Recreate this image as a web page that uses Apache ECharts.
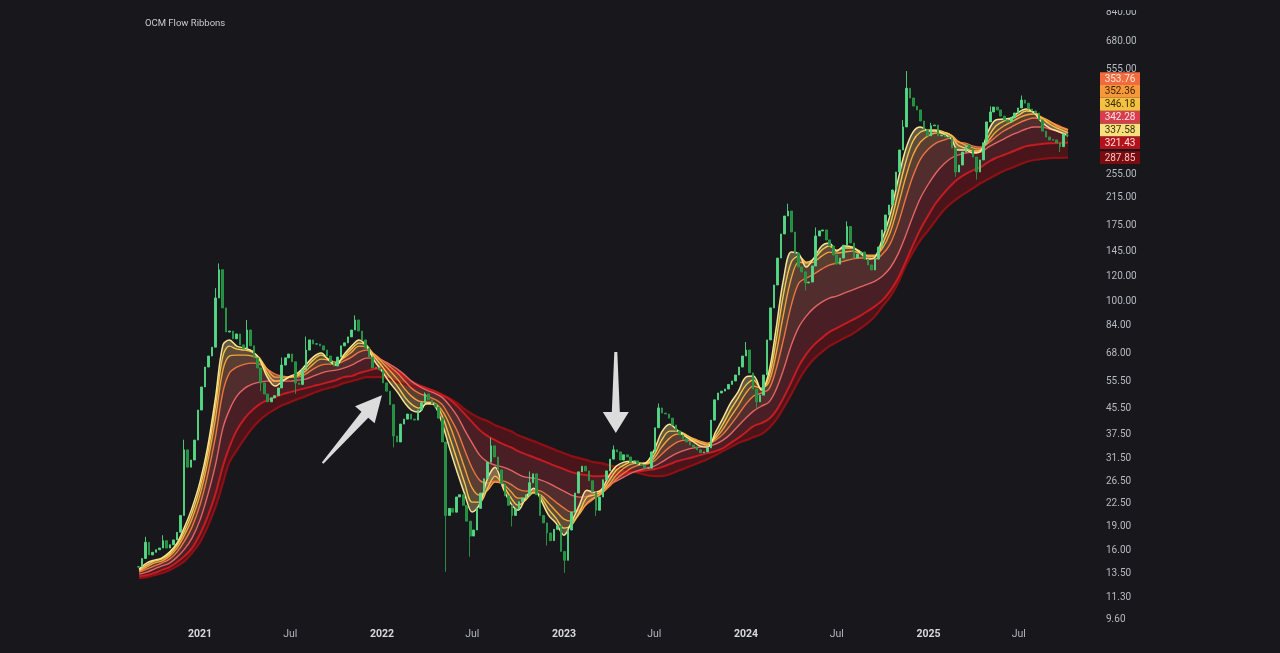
<!DOCTYPE html>
<html>
<head>
<meta charset="utf-8">
<script src="https://cdn.jsdelivr.net/npm/echarts@6/dist/echarts.min.js"></script>
<style>
html,body{margin:0;padding:0;background:#17171c;}
#c{width:1280px;height:653px;}
</style>
</head>
<body>
<div id="c"></div>
<script>
// ---------------- data ----------------
const TITLE = 'OCM Flow Ribbons';
const yTickLabels = [840, 680, 555, 255, 215, 175, 145, 120, 100, 84, 68, 55.5, 45.5, 37.5, 31.5, 26.5, 22.5, 19, 16, 13.5, 11.3, 9.6];
const xTickLabels = ['2021-01-01','2021-07-01','2022-01-01','2022-07-01','2023-01-01','2023-07-01','2024-01-01','2024-07-01','2025-01-01','2025-07-01'];

// weekly closes starting 2020-08-31
const priceStart = '2020-08-31';
const priceClose = [14.1,15.0,16.9,15.4,15.7,16.0,16.2,17.1,16.2,16.6,
17.2,18.2,20.6,33.4,29.4,31.0,35.9,44.8,53.1,61.5,
66.7,71.2,102.3,126,95.1,79.6,80.2,75.7,78.5,72.4,
70.7,80.8,71.9,65.8,61.1,54.7,50.4,47.6,49.0,49.8,
52.7,62.4,65.8,67.7,63.9,54.7,54.1,60.2,69.7,75.1,
72.9,72.9,71.9,69.7,66.7,63.9,62.0,66.2,71.9,73.5,
76.8,80.8,87.0,80.2,75.1,70.7,66.2,61.1,61.1,60.2,
54.7,51.5,46.6,37.0,35.4,40.4,41.9,43.5,41.9,41.6,
44.8,47.3,50.4,48.3,46.9,45.8,42.2,35.4,20.6,21.7,
21.1,23.6,24.0,22.2,19.75,17.7,18.5,21.7,24.3,27.0,
30.5,34.4,31.7,28.8,26.0,23.8,22.2,20.6,21.6,22.8,
23.4,24.0,26.2,28.0,24.0,20.6,19.5,18.1,17.1,18.6,
19.1,15.8,14.8,18.5,21.1,24.3,28.4,29.6,28.6,26.6,
24.5,21.4,23.6,26.8,28.6,31.2,33.4,32.9,31.0,32.2,
31.7,30.5,30.8,30.1,29.9,29.2,29.2,32.9,39.3,45.5,
43.8,43.5,42.2,40.1,38.4,37.3,36.2,35.4,34.6,34.1,
33.4,32.7,32.9,33.9,41.6,48.3,50.8,51.5,52.3,54.1,
55.5,58.0,61.5,66.7,69.7,58.9,52.3,47.6,50.0,58.0,
75.1,95.1,112.6,137.3,164.0,187.2,194.2,166.4,142.5,128.6,
124.0,114.3,115.1,129.5,161.6,167.7,168.9,156.9,150.1,140.4,
131.3,137.3,150.9,173.3,153.5,137.3,141.4,143.6,136.3,130.5,
125.8,136.3,149.0,168.9,188.6,203.0,226.8,259.0,304.6,361,
480,446.7,421,409,377,353,338,364,366,338,
340,335,333,309,259,272.6,300,316,307,289,
259,283,321,374.5,403,418,409,391,380,374.5,
386,400,415,440,430,412,406,400,380,350,
335,328,328,321,312,343,338];
// notable intraweek extremes (week index -> price)
const priceWickHigh = {2: 17.6, 7: 17.8, 13: 36.0, 22: 110, 23: 132, 31: 87, 41: 66, 48: 77, 62: 90, 82: 51, 101: 36.5, 112: 28.5, 136: 34.5, 149: 47.0, 174: 74.0, 186: 205, 194: 172, 203: 180, 219: 380, 220: 545, 227: 372, 244: 420, 253: 455};
const priceWickLow = {35: 51.5, 45: 50.5, 73: 34.0, 88: 13.6, 95: 15.2, 107: 19.0, 117: 16.5, 122: 13.5, 131: 20.5, 177: 45.5, 191: 108, 234: 250, 240: 245, 264: 300};

// ribbon values sampled on the 1st and 16th of each month (Sep 2020 .. Oct 1 2025) + Oct 8 2025
const ribbonL1 = [13.87,14.50,14.82,15.04,15.72,16.79,18.90,21.74,26.33,33.83,
48.91,72.29,75.00,71.76,70.71,69.16,64.72,57.10,53.44,55.44,
57.52,58.81,62.38,66.17,68.15,64.72,62.38,67.15,71.76,75.00,
71.76,64.72,59.68,55.03,51.12,47.14,44.77,44.11,47.14,46.45,
40.97,34.08,28.34,24.10,21.11,22.39,27.12,29.40,25.19,22.56,
21.42,23.40,25.19,23.06,20.65,19.47,17.81,19.61,22.23,24.82,
24.46,24.82,27.52,29.62,30.51,30.73,30.06,30.51,33.33,38.07,
40.37,38.63,36.96,35.62,34.33,34.08,38.07,42.21,47.14,51.12,
57.10,57.52,51.88,59.24,80.74,116.7,143.5,141.4,128.5,137.3,
150.1,153.4,144.5,150.1,148.9,143.5,136.3,138.3,159.1,188.5,
244.0,304.4,347.6,360.7,350.2,350.2,342.5,330.2,304.4,304.4,
297.7,302.2,350.2,379.8,382.7,385.5,402.9,412.0,400.0,374.2,
358.0,350.2,342.5,337.58];
const ribbonL2 = [13.76,14.28,14.71,14.93,15.49,16.55,18.34,20.95,25.19,32.13,
45.77,66.66,71.76,70.19,69.67,68.65,65.68,58.81,55.44,55.85,
57.10,57.95,61.02,64.72,67.15,65.20,63.31,66.17,70.19,73.36,
72.29,66.66,61.92,57.52,53.44,49.27,46.79,45.43,46.79,46.79,
43.15,36.96,30.96,26.14,22.72,22.72,25.19,27.52,25.75,23.57,
22.23,23.06,24.46,23.57,21.58,20.19,18.76,19.18,21.11,23.57,
23.92,24.46,26.52,28.76,29.84,30.51,30.28,30.28,32.13,35.88,
38.35,38.35,37.51,36.15,35.10,34.59,36.96,40.37,44.77,48.91,
53.83,55.85,52.26,57.10,73.89,104.5,133.3,139.3,133.3,136.3,
145.6,150.1,145.6,147.8,147.8,144.5,139.3,139.3,152.2,175.1,
221.7,276.6,325.3,347.6,352.8,352.8,347.6,338.5,315.8,308.9,
302.2,304.4,335.1,363.4,377.0,382.7,394.1,405.9,402.9,385.5,
368.8,358.0,350.2,346.18];
const ribbonL3 = [13.66,14.08,14.50,14.71,15.26,16.19,17.81,20.05,23.92,30.28,
41.90,60.12,66.66,67.15,67.15,66.66,65.20,60.57,57.10,57.10,
57.10,57.52,59.68,62.84,65.20,64.72,63.77,65.68,68.65,71.76,
71.23,67.65,63.77,60.12,56.26,52.26,49.64,47.84,47.49,47.14,
44.77,40.37,34.33,29.18,25.19,23.92,24.82,26.33,25.94,24.64,
23.40,23.40,24.28,23.92,22.56,21.26,20.05,19.75,20.80,22.56,
23.40,24.10,25.75,27.72,29.18,30.06,30.28,30.17,31.42,34.08,
36.42,37.51,37.23,36.42,35.62,35.10,36.42,38.92,42.52,46.11,
50.75,53.44,52.65,55.03,67.15,90.18,118.4,133.3,132.3,133.3,
139.3,143.5,142.4,143.5,144.5,142.4,140.3,140.3,147.8,165.1,
201.4,247.6,293.4,322.9,338.5,345.1,345.1,340.0,325.3,315.8,
308.9,306.7,325.3,347.6,363.4,374.2,385.5,394.1,397.0,388.3,
377.0,363.4,356.0,352.36];
const ribbonL4 = [13.56,13.87,14.18,14.50,14.93,15.72,17.04,18.90,22.23,27.52,
36.69,51.12,58.81,61.47,62.84,63.31,62.84,60.57,58.37,57.52,
57.10,57.10,58.37,60.57,62.38,62.84,62.84,64.25,66.17,68.65,
69.67,67.65,64.72,61.92,58.81,55.44,52.65,50.75,49.64,48.55,
46.79,42.83,38.35,33.33,29.18,26.72,26.14,26.52,26.52,25.94,
25.00,24.64,24.82,24.64,23.75,22.72,21.74,21.11,21.42,22.39,
23.23,24.10,25.38,26.92,28.13,29.18,29.84,30.06,30.73,32.36,
34.08,35.36,35.88,35.62,35.36,34.84,35.88,37.51,40.08,43.15,
46.79,49.64,50.75,52.26,60.12,75.00,97.06,114.2,118.4,122.0,
126.6,130.4,132.3,134.3,136.3,137.3,137.3,136.3,141.4,152.2,
176.4,212.2,251.3,284.9,306.7,320.5,327.7,332.6,322.9,320.5,
313.3,311.0,320.5,335.1,350.2,360.7,371.5,379.8,385.5,382.7,
374.2,366.2,357.5,353.76];
const ribbonL5 = [13.36,13.56,13.87,14.18,14.50,15.15,16.07,17.42,19.90,23.75,
29.84,39.20,44.77,49.64,52.65,54.23,55.03,55.44,55.44,55.44,
55.44,55.85,56.26,57.52,58.81,59.68,60.12,61.02,62.38,64.25,
65.68,65.68,64.72,62.84,60.57,57.95,55.44,53.44,51.88,50.75,
49.27,46.45,42.83,38.63,35.10,32.13,30.51,29.84,29.40,28.76,
27.92,27.31,27.12,26.72,26.14,25.38,24.64,23.92,23.57,23.75,
24.28,24.82,25.75,26.52,27.31,28.13,28.76,29.18,29.62,30.51,
31.65,32.60,33.33,33.83,34.08,34.33,34.84,35.88,37.51,39.77,
42.21,44.44,46.11,47.49,51.88,60.12,72.29,82.55,89.52,94.94,
99.23,102.2,103.7,106.0,108.4,110.8,113.3,115.9,120.3,127.6,
141.4,161.6,187.1,213.7,237.0,257.0,274.6,287.0,293.4,297.7,
300.0,300.0,311.0,320.5,330.2,340.0,347.6,355.4,360.7,360.7,
355.4,350.2,345.1,342.28];
const ribbonL6 = [13.17,13.26,13.46,13.76,14.08,14.60,15.26,16.19,17.94,20.34,
24.10,29.62,34.08,38.63,42.21,44.77,46.79,48.19,49.27,50.37,
51.12,51.88,52.65,53.44,54.23,55.03,55.85,57.10,57.52,58.81,
59.68,60.57,61.02,60.57,59.24,57.10,55.44,53.83,52.65,51.50,
50.00,48.55,46.11,43.47,40.97,38.63,36.96,35.88,34.84,34.08,
33.09,32.36,31.65,30.96,30.28,29.62,28.97,28.34,27.92,27.72,
27.52,27.52,27.72,27.92,28.13,28.34,28.55,28.76,28.97,29.40,
30.06,30.73,31.19,31.65,32.13,32.60,33.09,33.83,35.10,36.42,
38.07,39.77,40.67,41.90,44.44,48.91,55.03,61.92,67.65,72.29,
76.10,79.56,81.95,84.40,86.92,89.52,92.88,96.35,100.7,107.6,
118.4,133.3,151.1,170.0,188.5,206.0,221.7,235.2,245.8,255.1,
262.7,268.6,278.7,287.0,293.4,300.0,306.7,313.3,316.0,318.5,
320.0,320.8,321.2,321.43];
const ribbonL7 = [12.97,13.07,13.26,13.46,13.76,14.18,14.71,15.60,16.92,18.90,
21.90,26.14,30.51,33.33,36.42,39.20,41.58,43.47,45.10,46.45,
47.49,48.55,49.64,50.75,51.88,52.65,53.44,54.63,55.44,56.26,
57.10,57.10,57.10,56.26,55.03,54.23,53.44,53.04,52.26,51.50,
50.37,48.91,47.14,45.10,43.47,42.21,41.27,40.08,39.20,38.35,
37.23,36.42,35.62,34.84,34.08,33.33,32.60,31.89,31.42,30.96,
30.51,30.28,29.84,29.40,28.97,28.55,28.13,27.72,27.52,27.52,
27.92,28.55,29.18,29.84,30.51,31.19,32.13,33.09,34.08,35.10,
35.88,36.69,37.51,39.20,41.58,45.43,50.37,55.85,61.02,65.20,
68.65,71.76,73.89,76.10,78.40,81.40,84.99,89.52,96.35,103.1,
114.2,129.5,143.5,156.8,168.8,181.7,195.6,206.0,213.7,221.7,
230.0,238.7,245.8,253.2,260.8,266.6,272.6,278.7,282.8,284.9,
287.0,287.4,287.6,287.85];

// annotation arrows (data coordinates: [date, price])
const arrowA = { from: ['2021-09-04', 30.3], to: ['2022-01-01', 50.0] };
const arrowB = { from: ['2023-04-15', 68.7], to: ['2023-04-15', 37.8] };

// ---------------- styling ----------------
const BG = '#17171c';
const lineColors = ['#f8e591', '#f5c54c', '#f5a13d', '#ef7341', '#e46464', '#c41c22', '#8e1014'];
const lineWidths = [1.5, 1.4, 1.4, 1.4, 1.4, 2, 2.2];
const bandColors = ['rgba(232,205,140,0.36)', 'rgba(230,180,115,0.34)', 'rgba(225,145,95,0.33)',
                    'rgba(205,95,80,0.32)', 'rgba(180,50,55,0.32)', 'rgba(145,20,25,0.42)'];
const tagBg = ['#f7de7e', '#f4c242', '#f5993a', '#f26b3f', '#d83d4b', '#b3121a', '#7a0b0e'];
const tagFg = ['#3b3000', '#3b2a00', '#3b1d00', '#ffe8dc', '#ffe6e6', '#ffdede', '#f3c4c4'];

// ---------------- build ----------------
const DAY = 86400000;
function ribbonDates() {
  const out = [];
  for (let y = 2020; y <= 2025; y++) {
    for (let m = 0; m < 12; m++) {
      if (y === 2020 && m < 8) continue;
      for (const d of [1, 16]) {
        if (y === 2025 && (m > 9 || (m === 9 && d === 16))) continue;
        out.push(Date.UTC(y, m, d));
      }
    }
  }
  out.push(Date.UTC(2025, 9, 8));
  return out;
}
const rDates = ribbonDates();
const ribbons = [ribbonL1, ribbonL2, ribbonL3, ribbonL4, ribbonL5, ribbonL6, ribbonL7];

const t0 = Date.parse(priceStart + 'T00:00:00Z');
const candles = priceClose.map((c, i) => {
  const o = i ? priceClose[i - 1] : c;
  const hi = Math.max(o, c, priceWickHigh[i] || 0);
  const lo = Math.min(o, c, priceWickLow[i] || Infinity);
  return [t0 + i * 7 * DAY, o, c, lo, hi];
});

const series = [];
for (let k = 6; k >= 0; k--) {
  const data = rDates.map((t, i) => [t, k === 6 ? ribbons[6][i] : ribbons[k][i] - ribbons[k + 1][i]]);
  const s = {
    type: 'line', name: 'L' + (k + 1), data: data,
    stack: 'rib', stackStrategy: 'all',
    smooth: 0.35, symbol: 'none', silent: true, z: 2,
    lineStyle: { color: lineColors[k], width: lineWidths[k] }
  };
  if (k < 6) s.areaStyle = { color: bandColors[k], opacity: 1 };
  series.push(s);
}
series.push({
  type: 'candlestick', name: 'price', data: candles, z: 5, barWidth: 2.1, silent: true,
  encode: { x: 0, y: [1, 2, 3, 4] },
  itemStyle: { color: '#55d886', color0: '#208f40', borderColor: '#55d886', borderColor0: '#2a9a4a', borderWidth: 0.9 }
});

const chart = echarts.init(document.getElementById('c'), null, { renderer: 'canvas' });
chart.setOption({
  backgroundColor: BG,
  animation: false,
  title: { text: TITLE, left: 145, top: 19, padding: 0, textStyle: { color: '#c9cbd1', fontSize: 9.5, fontWeight: 'normal', fontFamily: 'Roboto' } },
  grid: { left: 0, right: 190, top: 0, bottom: 31 },
  xAxis: { type: 'time', min: Date.UTC(2019, 10, 27), max: Date.UTC(2025, 10, 21),
    axisLine: { show: false }, axisTick: { show: false }, axisLabel: { show: false }, splitLine: { show: false } },
  yAxis: { type: 'log', logBase: 10, position: 'right', min: 9.392, max: 919.9,
    axisLine: { show: false }, axisTick: { show: false }, axisLabel: { show: false }, splitLine: { show: false } },
  series: series
});

// ---------------- labels / annotations via the chart's scales ----------------
const g = [];
const yPix = v => chart.convertToPixel({ yAxisIndex: 0 }, v);
const xPix = s => chart.convertToPixel({ xAxisIndex: 0 }, typeof s === 'string' ? Date.parse(s + 'T00:00:00Z') : s);

yTickLabels.forEach(v => {
  g.push({ type: 'text', x: 1106, y: yPix(v) + 0.5, z: 10,
    style: { text: v.toFixed(2), fill: '#b8bac2', font: '10px Roboto', align: 'left', verticalAlign: 'middle' } });
});
xTickLabels.forEach(s => {
  const isYear = s.endsWith('-01-01');
  g.push({ type: 'text', x: xPix(s), y: 634, z: 10,
    style: { text: isYear ? s.slice(0, 4) : 'Jul', fill: isYear ? '#d6d8de' : '#b2b5be',
      font: (isYear ? 'bold ' : '') + '10.5px Roboto', align: 'center', verticalAlign: 'middle' } });
});
// cover strip at the top of the price scale (label cut by the frame)
g.push({ type: 'rect', shape: { x: 1095, y: 0, width: 70, height: 10 }, style: { fill: BG }, z: 30 });

// last-value tags, stacked upward to avoid overlap
const H = 12.8;
const last = ribbons.map((r, k) => ({ k: k, v: r[r.length - 1] }));
last.sort((a, b) => a.v - b.v);
let prevC = Infinity;
last.forEach(o => {
  let c = yPix(o.v);
  if (c > prevC - H) c = prevC - H;
  prevC = c;
  g.push({ type: 'rect', shape: { x: 1100, y: c - H / 2, width: 40, height: H }, style: { fill: tagBg[o.k] }, z: 20 });
  g.push({ type: 'text', x: 1120, y: c + 0.5, z: 21,
    style: { text: o.v.toFixed(2), fill: tagFg[o.k], font: '10px Roboto', align: 'center', verticalAlign: 'middle' } });
});

function arrowPoly(a, headLen, headHalf, tailHalf, baseHalf) {
  const T = [xPix(a.from[0]), yPix(a.from[1])];
  const P = [xPix(a.to[0]), yPix(a.to[1])];
  const dx = P[0] - T[0], dy = P[1] - T[1];
  const L = Math.hypot(dx, dy), ux = dx / L, uy = dy / L, nx = -uy, ny = ux;
  const B = [P[0] - headLen * ux, P[1] - headLen * uy];
  return [
    [T[0] + tailHalf * nx, T[1] + tailHalf * ny],
    [B[0] + baseHalf * nx, B[1] + baseHalf * ny],
    [B[0] + headHalf * nx, B[1] + headHalf * ny],
    P,
    [B[0] - headHalf * nx, B[1] - headHalf * ny],
    [B[0] - baseHalf * nx, B[1] - baseHalf * ny],
    [T[0] - tailHalf * nx, T[1] - tailHalf * ny]
  ];
}
g.push({ type: 'polygon', shape: { points: arrowPoly(arrowA, 26, 13, 1, 4.5) }, style: { fill: '#dcdcdc' }, z: 25 });
g.push({ type: 'polygon', shape: { points: arrowPoly(arrowB, 21, 13, 1.5, 4) }, style: { fill: '#dcdcdc' }, z: 25 });

chart.setOption({ graphic: g });
</script>
</body>
</html>
